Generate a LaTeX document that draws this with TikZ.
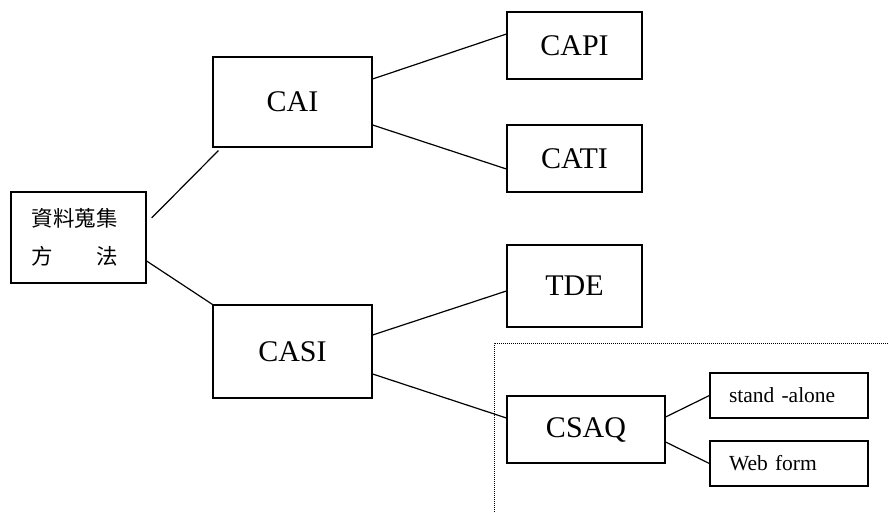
\documentclass[tikz,border=0pt]{standalone}
\usepackage{fontspec}
\setmainfont{Liberation Serif}
\newfontfamily\cjk{Noto Sans CJK TC}
\begin{document}
\begin{tikzpicture}
			[x=1pt,y=1pt,
			box/.style={draw,line width=1.2pt,inner sep=0pt,font=\fontsize{30}{34}\selectfont},
			small/.style={draw,line width=1.2pt,inner xsep=19pt,text width=120pt,align=left,minimum height=45pt,font=\fontsize{21.5}{24}\selectfont},
			link/.style={-,line width=1.2pt}]
			\useasboundingbox (0,0) rectangle (888,512);
			\node[draw,line width=1.2pt,name=src,minimum width=135pt,minimum height=91pt,inner sep=0pt] at (78.5,274.5) {};
			\node[anchor=west,align=left,font=\cjk\fontsize{21.5}{38}\selectfont,name=srctxt] at (28,274.5) {資料蒐集\\方　　法};
			\node[box,name=cai,minimum width=159pt,minimum height=90pt] at (292.5,410) {CAI};
			\node[box,name=casi,minimum width=159pt,minimum height=93pt] at (292.5,160.5) {CASI};
			\node[box,name=capi,minimum width=135pt,minimum height=67pt] at (574.5,466.5) {CAPI};
			\node[box,name=cati,minimum width=135pt,minimum height=67pt] at (574.5,353.5) {CATI};
			\node[box,name=tde,minimum width=135pt,minimum height=82pt] at (574.5,226) {TDE};
			\node[box,name=csaq,minimum width=158pt,minimum height=67pt] at (586,82.5) {CSAQ};
			\node[small,name=alone] at (789,116.5) {stand -alone};
			\node[small,name=web] at (789,48.5) {Web form};
			\draw[link]([xshift=5pt,yshift=19.5pt]src.east)--([xshift=6pt,yshift=-3pt]cai.south west);
			\draw[link]([yshift=-23.5pt]src.east)--(casi.north west);
			\draw[link]([yshift=23pt]cai.east)--([yshift=11.5pt]capi.west);
			\draw[link]([yshift=-23pt]cai.east)--([yshift=-10.5pt]cati.west);
			\draw[link]([yshift=16.5pt]casi.east)--([yshift=-5pt]tde.west);
			\draw[link]([yshift=-22.5pt]casi.east)--([yshift=11.5pt]csaq.west);
			\draw[link]([yshift=12.5pt]csaq.east)--(alone.west);
			\draw[link]([yshift=-12.5pt]csaq.east)--(web.west);
			\draw[densely dotted,line width=1pt](494,0)|-(888,169);
		\end{tikzpicture}
\end{document}
